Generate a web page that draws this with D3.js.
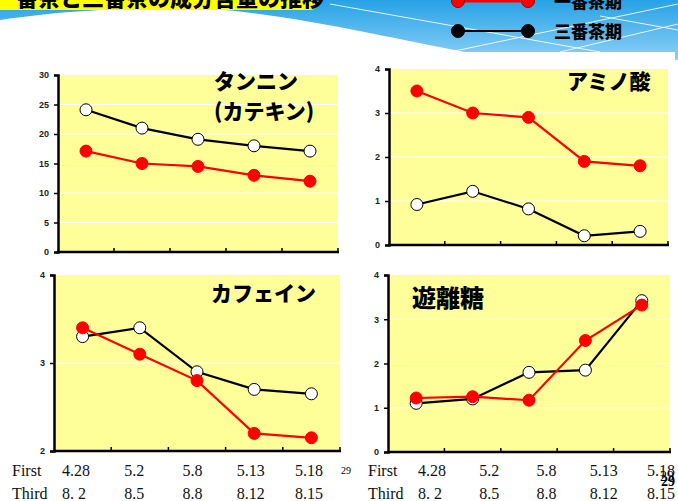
<!DOCTYPE html>
<html>
<head>
<meta charset="utf-8">
<script src="https://d3js.org/d3.v7.min.js"></script>
<style>
  body { margin: 0; padding: 0; }
  svg { display: block; }
  .ytick text { font-family: "Liberation Sans", Arial, sans-serif; font-size: 9px; font-weight: bold; fill: #222; }
  .cat { font-family: "Liberation Serif", "Times New Roman", serif; font-size: 16px; fill: #111; }
  .ptitle { font-family: "Noto Sans CJK JP", sans-serif; font-weight: 900; fill: #000; }
</style>
</head>
<body>
<script>
// sampling dates (first flush / third flush)
var firstDates = ["4.28", "5.2", "5.8", "5.13", "5.18"];
var thirdDates = ["8. 2", "8.5", "8.8", "8.12", "8.15"];
var seriesNames = ["一番茶期", "三番茶期"];

// タンニン (カテキン)
var tanninFirst = [17.1, 15.0, 14.5, 13.0, 12.0];
var tanninThird = [24.1, 21.0, 19.1, 18.0, 17.1];
var tanninTicks = [0, 5, 10, 15, 20, 25, 30];

// アミノ酸
var aminoFirst = [3.5, 3.0, 2.9, 1.9, 1.8];
var aminoThird = [0.92, 1.22, 0.82, 0.21, 0.31];
var aminoTicks = [0, 1, 2, 3, 4];

// カフェイン
var caffeineFirst = [3.4, 3.1, 2.8, 2.2, 2.15];
var caffeineThird = [3.3, 3.4, 2.9, 2.7, 2.65];
var caffeineTicks = [2, 3, 4];

// 遊離糖
var sugarFirst = [1.22, 1.25, 1.17, 2.52, 3.32];
var sugarThird = [1.1, 1.2, 1.8, 1.85, 3.42];
var sugarTicks = [0, 1, 2, 3, 4];

var W = 678, H = 501;
var svg = d3.select("body").append("svg").attr("width", W).attr("height", H);

// ---- header background ----
var defs = svg.append("defs");
var grad = defs.append("linearGradient").attr("id", "sky")
  .attr("x1", 0).attr("y1", 0).attr("x2", 0).attr("y2", 1);
grad.append("stop").attr("offset", "0%").attr("stop-color", "#27a2e6");
grad.append("stop").attr("offset", "100%").attr("stop-color", "#8fd2f6");
svg.append("rect").attr("width", W).attr("height", 62).attr("fill", "url(#sky)");

// thin white streaks
[[330, 4, 600, 52], [450, 52, 678, 4], [560, 52, 678, 24], [600, 16, 678, 30]].forEach(function(l) {
  svg.append("line").attr("x1", l[0]).attr("y1", l[1]).attr("x2", l[2]).attr("y2", l[3])
    .attr("stroke", "#fff").attr("stroke-width", 1).attr("opacity", 0.85);
});

// white swoosh + page area
svg.append("path")
  .attr("d", "M0,20 C70,9 160,6 215,9 C300,16 400,40 465,52 L675,52 L675,60 L678,60 L678,501 L0,501 Z")
  .attr("fill", "#fff");

// title bar (cut at top)
svg.append("path")
  .attr("d", "M0,0 L316,0 L316,4 Q316,10 310,10 L0,10 Z")
  .attr("fill", "#ffff00");
svg.append("text").attr("x", -6).attr("y", 6)
  .attr("class", "ptitle").style("font-size", "22px")
  .text("一番茶と三番茶の成分含量の推移");

// legend
var legendColors = ["#ff0000", "#000000"];
var legendY = [1, 31];
seriesNames.forEach(function(name, i) {
  var g = svg.append("g");
  g.append("line").attr("x1", 458).attr("x2", 528).attr("y1", legendY[i]).attr("y2", legendY[i])
    .attr("stroke", legendColors[i]).attr("stroke-width", i === 0 ? 3 : 2);
  [458, 528].forEach(function(cx) {
    g.append("circle").attr("cx", cx).attr("cy", legendY[i]).attr("r", 6.5)
      .attr("fill", legendColors[i]).attr("stroke", i === 0 ? "#900" : "#000").attr("stroke-width", 1);
  });
  g.append("text").attr("x", 554).attr("y", legendY[i] + 7)
    .attr("class", "ptitle").style("font-size", "17px").text(name);
});

// ---- panels ----
function drawPanel(cfg) {
  var x = d3.scaleBand().domain(d3.range(firstDates.length)).range([cfg.left, cfg.right]).padding(0);
  var y = d3.scaleLinear().domain([cfg.ticks[0], cfg.ticks[cfg.ticks.length - 1]]).range([cfg.bottom, cfg.top]);
  var g = svg.append("g");

  g.append("rect").attr("x", cfg.left).attr("y", cfg.top)
    .attr("width", cfg.right - cfg.left).attr("height", cfg.bottom - cfg.top)
    .attr("fill", "#ffff99");

  // gridlines
  g.selectAll(".grid").data(cfg.ticks.slice(1, -1)).enter().append("line")
    .attr("x1", cfg.left).attr("x2", cfg.right)
    .attr("y1", function(d) { return y(d); }).attr("y2", function(d) { return y(d); })
    .attr("stroke", "#fff").attr("stroke-width", 1);

  // y axis
  var yAxis = d3.axisLeft(y).tickValues(cfg.ticks).tickSize(4).tickPadding(5).tickFormat(d3.format("d"));
  var ya = g.append("g").attr("class", "ytick").attr("transform", "translate(" + cfg.left + ",0)").call(yAxis);
  ya.select(".domain").attr("stroke", "#000").attr("stroke-width", 2.5);
  ya.selectAll(".tick line").attr("stroke", "#000").attr("stroke-width", 1.5);

  // x axis with inner ticks at category boundaries
  g.append("line").attr("x1", cfg.left - 1).attr("x2", cfg.right + 1)
    .attr("y1", cfg.bottom).attr("y2", cfg.bottom).attr("stroke", "#000").attr("stroke-width", 2.5);
  g.selectAll(".xt").data(d3.range(1, firstDates.length + 1)).enter().append("line")
    .attr("x1", function(i) { return cfg.left + i * x.bandwidth(); })
    .attr("x2", function(i) { return cfg.left + i * x.bandwidth(); })
    .attr("y1", cfg.bottom).attr("y2", cfg.bottom - 4)
    .attr("stroke", "#000").attr("stroke-width", 1.5);

  var line = d3.line()
    .x(function(d, i) { return x(i) + x.bandwidth() / 2; })
    .y(function(d) { return y(d); });

  // third flush (black / white markers) then first flush (red)
  var series = [
    { data: cfg.third, stroke: "#000", fill: "#fff", mstroke: "#000" },
    { data: cfg.first, stroke: "#ff0000", fill: "#ff0000", mstroke: "#ff0000" }
  ];
  if (cfg.redBelow) series.reverse();
  series.forEach(function(s) {
    g.append("path").attr("d", line(s.data)).attr("fill", "none")
      .attr("stroke", s.stroke).attr("stroke-width", 2.2);
    g.selectAll(null).data(s.data).enter().append("circle")
      .attr("cx", function(d, i) { return x(i) + x.bandwidth() / 2; })
      .attr("cy", function(d) { return y(d); })
      .attr("r", 6)
      .attr("fill", s.fill).attr("stroke", s.mstroke).attr("stroke-width", 1);
  });

  cfg.title.forEach(function(t, i) {
    g.append("text").attr("class", "ptitle").attr("x", cfg.tx).attr("y", cfg.ty + i * 30)
      .style("font-size", cfg.tsize + "px").text(t);
  });
}

drawPanel({ left: 58, right: 338, top: 75, bottom: 252, ticks: tanninTicks,
  first: tanninFirst, third: tanninThird, title: ["タンニン", "(カテキン)"], tx: 214, ty: 89, tsize: 21 });
drawPanel({ left: 389, right: 668, top: 69, bottom: 245, ticks: aminoTicks,
  first: aminoFirst, third: aminoThird, title: ["アミノ酸"], tx: 567, ty: 89, tsize: 21 });
drawPanel({ left: 54, right: 340, top: 275, bottom: 451, ticks: caffeineTicks,
  first: caffeineFirst, third: caffeineThird, title: ["カフェイン"], tx: 211, ty: 301, tsize: 21 });
drawPanel({ left: 388, right: 670, top: 275, bottom: 452, ticks: sugarTicks,
  first: sugarFirst, third: sugarThird, title: ["遊離糖"], tx: 412, ty: 307, tsize: 24 });

// ---- date rows under the lower panels ----
function dateRows(x0, start, end) {
  var px = d3.scalePoint().domain(d3.range(firstDates.length)).range([start, end]);
  svg.append("text").attr("class", "cat").attr("x", x0).attr("y", 476).text("First");
  svg.append("text").attr("class", "cat").attr("x", x0).attr("y", 499).text("Third");
  svg.selectAll(null).data(firstDates).enter().append("text").attr("class", "cat")
    .attr("text-anchor", "middle").attr("x", function(d, i) { return px(i); }).attr("y", 476).text(function(d) { return d; });
  svg.selectAll(null).data(thirdDates).enter().append("text").attr("class", "cat")
    .attr("text-anchor", "middle").attr("x", function(d, i) { return px(i) - (i === 0 ? 2 : 0); }).attr("y", 499).text(function(d) { return d; });
}
dateRows(12, 76, 309);
dateRows(368, 432, 661);

// slide numbers
svg.append("text").attr("x", 341).attr("y", 474).style("font-family", "Liberation Serif, serif")
  .style("font-size", "10px").text("29");
svg.append("text").attr("x", 660).attr("y", 481).style("font-family", "Liberation Serif, serif")
  .style("font-size", "14px").text("29");
svg.append("text").attr("x", 661).attr("y", 486).style("font-family", "Liberation Serif, serif")
  .style("font-size", "14px").style("font-weight", "bold").text("29");
</script>
</body>
</html>
